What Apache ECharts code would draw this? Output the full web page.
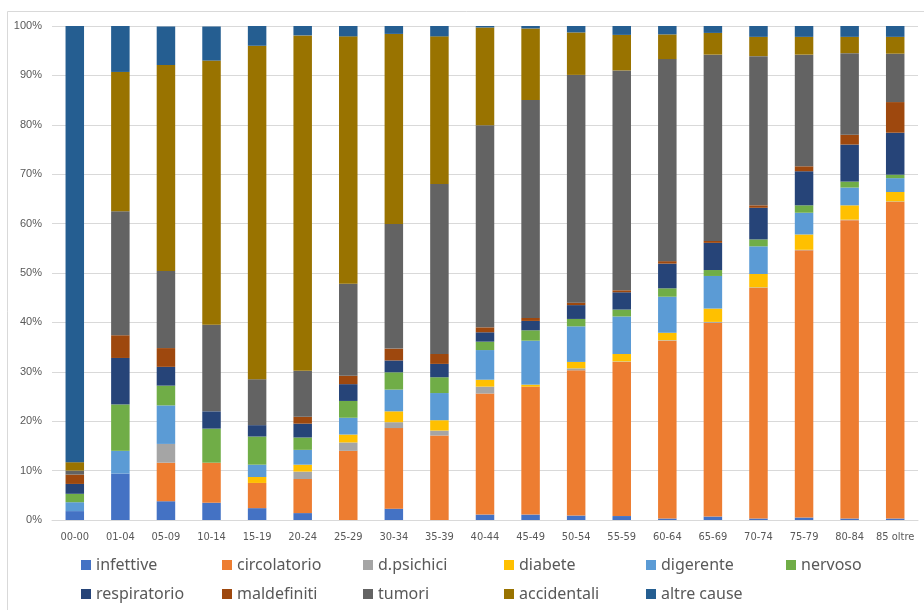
<!DOCTYPE html>
<html>
<head>
<meta charset="utf-8">
<script src="https://cdn.jsdelivr.net/npm/echarts@6/dist/echarts.min.js"></script>
<style>
  html, body { margin: 0; padding: 0; background: #ffffff; }
  #chart { width: 924px; height: 610px; }
</style>
</head>
<body>
<div id="chart"></div>
<script>
// Age classes
const categories = ['00-00', '01-04', '05-09', '10-14', '15-19', '20-24', '25-29', '30-34', '35-39',
  '40-44', '45-49', '50-54', '55-59', '60-64', '65-69', '70-74', '75-79', '80-84', '85 oltre'];

// Share of deaths by cause (% of each age class)
const infettive    = [1.8, 9.4, 3.8, 3.5, 2.4, 1.4, 0, 2.3, 0, 1.1, 1.1, 0.9, 0.8, 0.3, 0.7, 0.3, 0.5, 0.3, 0.3];
const circolatorio = [0, 0, 7.8, 8.1, 5.1, 6.9, 14.0, 16.3, 17.1, 24.5, 25.9, 29.4, 31.2, 36.0, 39.2, 46.7, 54.1, 60.4, 64.1];
const dPsichici    = [0, 0, 3.8, 0, 0, 1.5, 1.7, 1.2, 1.0, 1.4, 0, 0.4, 0.1, 0.1, 0.2, 0.1, 0.1, 0.1, 0.1];
const diabete      = [0, 0, 0, 0, 1.2, 1.4, 1.6, 2.2, 2.1, 1.4, 0.4, 1.3, 1.5, 1.5, 2.7, 2.7, 3.1, 2.9, 1.9];
const digerente    = [1.8, 4.6, 7.8, 0, 2.5, 3.0, 3.4, 4.4, 5.5, 6.0, 8.9, 7.2, 7.6, 7.3, 6.6, 5.6, 4.4, 3.6, 2.8];
const nervoso      = [1.7, 9.4, 4.0, 6.9, 5.7, 2.5, 3.4, 3.5, 3.2, 1.7, 2.1, 1.5, 1.4, 1.7, 1.2, 1.4, 1.5, 1.2, 0.7];
const respiratorio = [2.0, 9.4, 3.8, 3.5, 2.3, 2.8, 3.4, 2.4, 2.7, 1.9, 1.9, 2.8, 3.5, 5.0, 5.5, 6.4, 6.9, 7.5, 8.5];
const maldefiniti  = [1.9, 4.6, 3.8, 0, 0, 1.4, 1.7, 2.4, 2.0, 1.0, 0.6, 0.5, 0.4, 0.5, 0.4, 0.5, 1.0, 2.0, 6.2];
const tumori       = [0.8, 25.1, 15.6, 17.5, 9.3, 9.3, 18.6, 25.2, 34.4, 40.9, 44.1, 46.1, 44.5, 40.9, 37.7, 30.2, 22.6, 16.5, 9.8];
const accidentali  = [1.7, 28.2, 41.7, 53.5, 67.5, 67.9, 50.1, 38.5, 29.9, 19.8, 14.5, 8.6, 7.2, 5.0, 4.4, 3.9, 3.6, 3.3, 3.4];
const altreCause   = [88.3, 9.3, 7.8, 6.9, 4.0, 1.9, 2.1, 1.6, 2.1, 0.3, 0.5, 1.3, 1.8, 1.7, 1.4, 2.2, 2.2, 2.2, 2.2];

// Y axis ticks
const yTicks = { min: 0, max: 100, step: 10 };

const causes = [
  { name: 'infettive',    data: infettive,    color: '#4472C4' },
  { name: 'circolatorio', data: circolatorio, color: '#ED7D31' },
  { name: 'd.psichici',   data: dPsichici,    color: '#A5A5A5' },
  { name: 'diabete',      data: diabete,      color: '#FFC000' },
  { name: 'digerente',    data: digerente,    color: '#5B9BD5' },
  { name: 'nervoso',      data: nervoso,      color: '#70AD47' },
  { name: 'respiratorio', data: respiratorio, color: '#264478' },
  { name: 'maldefiniti',  data: maldefiniti,  color: '#9E480E' },
  { name: 'tumori',       data: tumori,       color: '#636363' },
  { name: 'accidentali',  data: accidentali,  color: '#997300' },
  { name: 'altre cause',  data: altreCause,   color: '#255E91' }
];

const legendFont = { color: '#595959', fontSize: 16, fontFamily: '"Noto Sans", "Liberation Sans", sans-serif' };

// Legend laid out as 6 columns of 2 rows
const legendCols = [81, 222, 363, 504, 646, 786];
const legends = legendCols.map((x, i) => {
  const names = [causes[i].name];
  if (causes[i + 6]) names.push(causes[i + 6].name);
  return {
    orient: 'vertical',
    left: x,
    top: 557,
    padding: 0,
    itemWidth: 10,
    itemHeight: 10,
    itemGap: 13,
    icon: 'rect',
    selectedMode: false,
    textStyle: legendFont,
    data: names
  };
});

const chart = echarts.init(document.getElementById('chart'), null, { renderer: 'canvas' });
chart.setOption({
  animation: false,
  backgroundColor: '#ffffff',
  graphic: [{
    type: 'rect',
    shape: { x: 7.5, y: 11.5, width: 940, height: 620 },
    style: { fill: 'none', stroke: '#D9D9D9', lineWidth: 1 },
    silent: true
  }],
  legend: legends,
  grid: { left: 52, right: 6, top: 26, bottom: 90, containLabel: false },
  xAxis: {
    type: 'category',
    data: categories,
    axisLine: { lineStyle: { color: '#D9D9D9' } },
    axisTick: { show: false },
    axisLabel: {
      color: '#595959',
      fontSize: 11,
      margin: 12,
      interval: 0,
      fontFamily: '"Liberation Sans Narrow", "DejaVu Sans Condensed", "Liberation Sans", sans-serif'
    }
  },
  yAxis: {
    type: 'value',
    min: yTicks.min,
    max: yTicks.max,
    interval: yTicks.step,
    axisLine: { show: false },
    axisTick: { show: false },
    splitLine: { lineStyle: { color: '#D9D9D9' } },
    axisLabel: {
      formatter: '{value}%',
      color: '#595959',
      fontSize: 11,
      margin: 10,
      fontFamily: '"Liberation Sans", sans-serif'
    }
  },
  series: causes.map(c => ({
    name: c.name,
    type: 'bar',
    stack: 'total',
    barWidth: 18.5,
    data: c.data,
    itemStyle: { color: c.color }
  }))
});
</script>
</body>
</html>
